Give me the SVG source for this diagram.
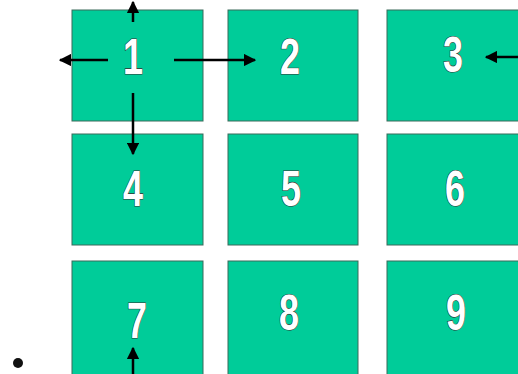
<svg xmlns="http://www.w3.org/2000/svg" width="518" height="374" viewBox="0 0 518 374">
<style>
.box{fill:#00CC99;stroke:#3a6a5a;stroke-width:1}
.num{font-family:"Liberation Sans",Arial,sans-serif;font-weight:bold;font-size:50px;fill:#ffffff;stroke:#333333;stroke-width:1.2;paint-order:stroke;text-anchor:middle}
.arr{stroke:#000;stroke-width:2.5;fill:none;marker-end:url(#ah)}
</style>
<defs>
<marker id="ah" viewBox="0 0 10 10" refX="9" refY="5" markerWidth="5" markerHeight="5" markerUnits="strokeWidth" orient="auto">
<path d="M0,0 L10,5 L0,10 Z" fill="#000"/>
</marker>
</defs>
<rect width="518" height="374" fill="#fff"/>
<g id="n1"><rect class="box" x="72" y="10" width="131" height="111"/><text class="num" transform="translate(133,74) scale(0.72,1)">1</text></g>
<g id="n2"><rect class="box" x="228" y="10" width="130" height="111"/><text class="num" transform="translate(290,74) scale(0.72,1)">2</text></g>
<g id="n3"><rect class="box" x="387" y="10" width="132" height="111"/><text class="num" transform="translate(453,72) scale(0.72,1)">3</text></g>
<g id="n4"><rect class="box" x="72" y="134" width="131" height="111"/><text class="num" transform="translate(133,206) scale(0.72,1)">4</text></g>
<g id="n5"><rect class="box" x="228" y="134" width="130" height="111"/><text class="num" transform="translate(291,206) scale(0.72,1)">5</text></g>
<g id="n6"><rect class="box" x="387" y="134" width="132" height="111"/><text class="num" transform="translate(455,206) scale(0.72,1)">6</text></g>
<g id="n7"><rect class="box" x="72" y="261" width="131" height="120"/><text class="num" transform="translate(137,338) scale(0.72,1)">7</text></g>
<g id="n8"><rect class="box" x="228" y="261" width="130" height="120"/><text class="num" transform="translate(289,330) scale(0.72,1)">8</text></g>
<g id="n9"><rect class="box" x="387" y="261" width="132" height="120"/><text class="num" transform="translate(456,330) scale(0.72,1)">9</text></g>
<g id="connectors">
<line class="arr" x1="133" y1="22" x2="133" y2="2"/>
<line class="arr" x1="108" y1="60" x2="60" y2="60"/>
<line class="arr" x1="174" y1="60" x2="255" y2="60"/>
<line class="arr" x1="133" y1="93" x2="133" y2="154"/>
<line class="arr" x1="520" y1="57" x2="486" y2="57"/>
<line class="arr" x1="133" y1="376" x2="133" y2="348"/>
</g>
<circle cx="18" cy="363" r="5" fill="#111"/>
</svg>
